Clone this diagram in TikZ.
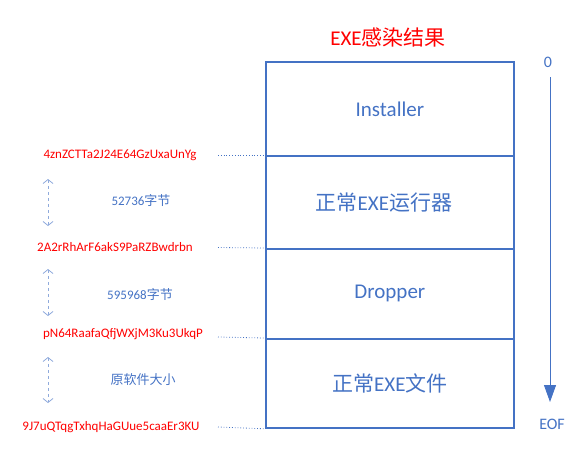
\documentclass[tikz,border=0pt]{standalone}
\usepackage{fontspec}
\setmainfont{Carlito}
\newfontfamily\cjk{Noto Sans CJK SC}
\usetikzlibrary{arrows.meta}
\definecolor{mblue}{HTML}{4472C4}
\definecolor{lblue}{HTML}{8FAADC}
\definecolor{mred}{HTML}{FF0000}
\begin{document}
\begin{tikzpicture}[x=1pt,y=-1pt,
  seg/.style={draw=mblue,line width=1.8pt,minimum width=248pt,anchor=north west,inner sep=0pt,text=mblue,font=\fontsize{21}{22}\selectfont},
  redlab/.style={text=mred,font=\fontsize{13}{14}\selectfont,inner sep=0pt},
  bluelab/.style={text=mblue,font=\fontsize{13}{14}\selectfont,inner sep=0pt},
  dotline/.style={mblue,dotted,line width=0.8pt},
  dbl/.style={lblue,dashed,line width=0.8pt,{Straight Barb[length=4pt,width=10pt]}-{Straight Barb[length=4pt,width=10pt]}}]
\useasboundingbox (0,0) rectangle (578,451);
\node[text=mred,font=\fontsize{21}{22}\selectfont] (title) at (388,37) {EXE{\cjk 感染结果}};
\node[seg,minimum height=94pt] (s1) at (265,61) {Installer};
\node[seg,minimum height=93pt] (s2) at (265,155) {\hspace*{-12pt}{\cjk 正常}EXE{\cjk 运行器}};
\node[seg,minimum height=90pt] (s3) at (265,248) {Dropper};
\node[seg,minimum height=89pt] (s4) at (265,338) {{\cjk 正常}EXE{\cjk 文件}};
\node[text=mblue,font=\fontsize{16}{17}\selectfont] (zero) at (548,62) {0};
\node[text=mblue,font=\fontsize{16}{17}\selectfont] (eof) at (552,424) {EOF};
\coordinate (at) at (550,77);
\coordinate (ab) at (550,402);
\draw[mblue,line width=0.9pt,-{Triangle[length=17pt,width=12pt]}] (at) -- (ab);
% left labels
\node[redlab] (r1) at (120,155) {4znZCTTa2J24E64GzUxaUnYg};
\node[redlab] (r2) at (115,247) {2A2rRhArF6akS9PaRZBwdrbn};
\node[redlab] (r3) at (123,334) {pN64RaafaQfjWXjM3Ku3UkqP};
\node[redlab] (r4) at (111,427) {9J7uQTqgTxhqHaGUue5caaEr3KU};
\coordinate (d1) at (218,155);
\coordinate (d2) at (218,247.5);
\coordinate (d3) at (218,337);
\coordinate (d4) at (218,427);
\draw[dotline] (d1) -- (s2.north west);
\draw[dotline] (d2) -- (s3.north west);
\draw[dotline] (d3) -- (s4.north west);
\draw[dotline] (d4) -- (s4.south west);
\node[bluelab] (b1) at (141,200) {52736{\cjk 字节}};
\node[bluelab] (b2) at (140,294) {595968{\cjk 字节}};
\node[bluelab] (b3) at (143,380) {\cjk 原软件大小};
\coordinate (u1) at (48,179); \coordinate (v1) at (48,226);
\coordinate (u2) at (48,269); \coordinate (v2) at (48,316);
\coordinate (u3) at (48,357); \coordinate (v3) at (48,403);
\draw[dbl] (u1) -- (v1);
\draw[dbl] (u2) -- (v2);
\draw[dbl] (u3) -- (v3);
\end{tikzpicture}
\end{document}
